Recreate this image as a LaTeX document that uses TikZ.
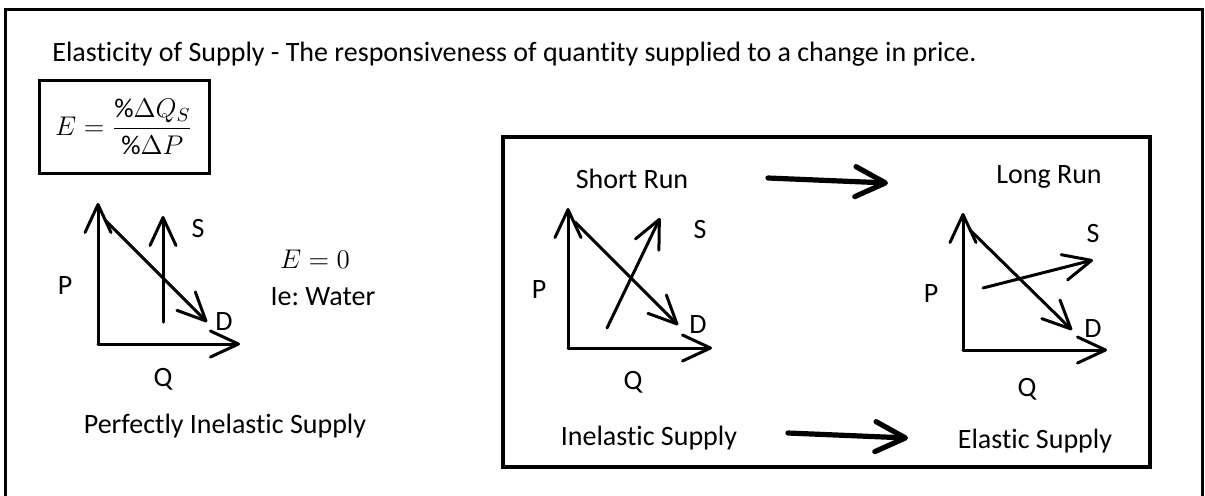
\RequirePackage{fix-cm}
\documentclass[tikz,border=0pt]{standalone}
\usepackage{fontspec}
\setmainfont{Carlito}[Ligatures=NoCommon]
\usetikzlibrary{arrows.meta}
\frenchspacing
\tikzset{
  txt/.style={font=\fontsize{14}{16}\selectfont, inner sep=0pt, anchor=base},
  frame/.style={draw=black, line width=1.5pt},
  axis/.style={line width=1.5pt, line cap=round, line join=round,
    -{Straight Barb[length=14pt, width=13pt, line cap=round, line join=round]}},
  curve/.style={axis},
  bigarrow/.style={line width=2.6pt, line cap=round,
    -{Straight Barb[length=15pt, width=15pt, line cap=round, line join=round]}}
}
\begin{document}
\begin{tikzpicture}[x=0.5pt, y=-0.5pt]
\useasboundingbox (0,0) rectangle (1205,495);
% Outer frame, bottom edge runs off the page
\draw[frame] (5.5,9.5) rectangle (1202.5,540);
% Title
\node[txt, anchor=base west] (title) at (52,61)
  {Elasticity of Supply - The responsiveness of quantity supplied to a change in price.};
% Formula box
\node[draw, line width=1.5pt, minimum width=85pt, minimum height=46.5pt, inner sep=0pt,
  font=\fontsize{13.5}{15}\selectfont] (formula) at (124,126.5)
  {$\displaystyle E=\frac{\%\Delta Q_S}{\%\Delta P}$};

% Perfectly inelastic chart
\coordinate (pO) at (98,344);
\coordinate (pP) at (98,203);
\coordinate (pQ) at (240,344);
\coordinate (pS0) at (163,322);
\coordinate (pS1) at (163,216);
\coordinate (pD0) at (105,220);
\coordinate (pD1) at (207,322);
\draw[axis] (pO) -- (pP);
\draw[axis] (pO) -- (pQ);
\draw[curve] (pS0) -- (pS1);
\draw[curve] (pD0) -- (pD1);
\node[txt] (pSl) at (198,237) {S};
\node[txt] (pPl) at (65,294) {P};
\node[txt] (pDl) at (224,330) {D};
\node[txt] (pQl) at (163,386) {Q};
\node[txt, font=\fontsize{13.5}{15}\selectfont] (pE) at (315,268) {$E=0$};
\node[txt] (pEx) at (323,305) {Ie: Water};
\node[txt] (pName) at (225,433) {Perfectly Inelastic Supply};

% Short run / long run box
\draw[line width=2pt] (503,137) rectangle (1150,467);
\node[txt] (srTitle) at (632,188) {Short Run};
\node[txt] (lrTitle) at (1049,183) {Long Run};
\coordinate (arTop0) at (768,178);
\coordinate (arTop1) at (888,183);
\draw[bigarrow] (arTop0) -- (arTop1);

% Short run chart
\coordinate (sO) at (568,348);
\coordinate (sP) at (568,208);
\coordinate (sQ) at (712,348);
\coordinate (sS0) at (607,328);
\coordinate (sS1) at (660,218);
\coordinate (sD0) at (575,222);
\coordinate (sD1) at (678,325);
\draw[axis] (sO) -- (sP);
\draw[axis] (sO) -- (sQ);
\draw[curve] (sS0) -- (sS1);
\draw[curve] (sD0) -- (sD1);
\node[txt] (sSl) at (700,238) {S};
\node[txt] (sPl) at (539,298) {P};
\node[txt] (sDl) at (698,333) {D};
\node[txt] (sQl) at (633,389) {Q};

% Long run chart
\coordinate (lO) at (963,350);
\coordinate (lP) at (963,213);
\coordinate (lQ) at (1107,350);
\coordinate (lS0) at (983,288);
\coordinate (lS1) at (1093,260);
\coordinate (lD0) at (970,230);
\coordinate (lD1) at (1072,330);
\draw[axis] (lO) -- (lP);
\draw[axis] (lO) -- (lQ);
\draw[curve] (lS0) -- (lS1);
\draw[curve] (lD0) -- (lD1);
\node[txt] (lSl) at (1093,242) {S};
\node[txt] (lPl) at (931,302) {P};
\node[txt] (lDl) at (1093,337) {D};
\node[txt] (lQl) at (1027,396) {Q};

% Bottom labels
\node[txt] (inel) at (649,445) {Inelastic Supply};
\node[txt] (el) at (1035,448) {Elastic Supply};
\coordinate (arBot0) at (788,433);
\coordinate (arBot1) at (908,438);
\draw[bigarrow] (arBot0) -- (arBot1);
\end{tikzpicture}
\end{document}
